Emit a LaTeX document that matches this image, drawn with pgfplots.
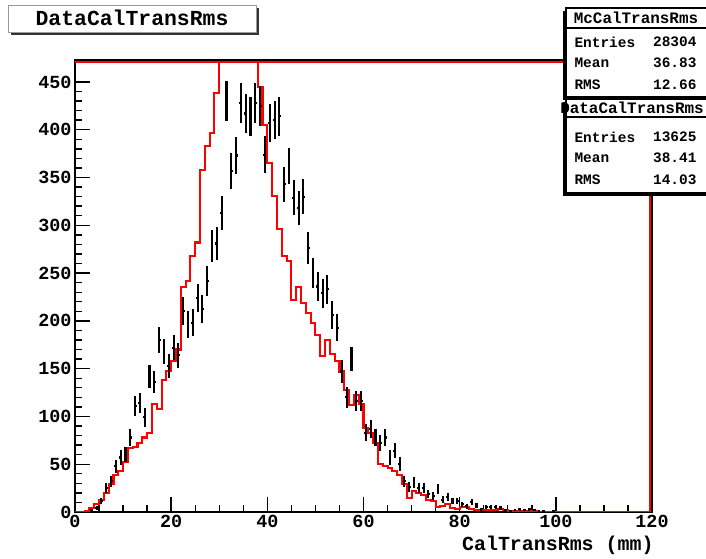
\documentclass[border=0pt]{standalone}
\usepackage{pgfplots}
\usepackage{pgfplotstable}
\pgfplotsset{compat=1.18}
\usepackage{fontspec}
\setmainfont{Liberation Mono}

\pgfplotstableread{
x y
0 0
1 0
2 1
3 4.5
4 8.7
5 13
6 20
7 29
8 39
9 43
10 52
11 67
12 68
13 72
14 78
15 83
16 113
17 108
18 138
19 148
20 158
21 170
22 235
23 242
24 268
25 282
26 358
27 383
28 397
29 438
30 490
31 510
32 525
33 535
34 530
35 520
36 505
37 485
38 445
39 405
40 365
41 331
42 296
43 268
44 263
45 222
46 235
47 219
48 208
49 198
50 185
51 163
52 180
53 165
54 158
55 147
56 128
57 112
58 122
59 113
60 88
61 83
62 72
63 50
64 48
65 46
66 43
67 39
68 29
69 15
70 22
71 20
72 18
73 13
74 11.5
75 5
76 6
77 8
78 4
79 3
80 5.5
81 5
82 3
83 2.5
84 2.5
85 2
86 2
87 2
88 3
89 2
90 1
91 1
92 0.5
93 1
94 1
95 0.5
96 0.3
97 0.3
98 0.3
99 0
100 0.3
101 0
102 0
103 0
104 0
105 0
106 0
107 0
108 0
109 0
110 0
111 0
112 0
113 0
114 0
115 0
116 0
117 0
118 0
119 0
120 0
}\mctable

\pgfplotstableread{
x y ex ey
3.5 2 0.3 1.4
4.5 4 0.3 2
5.5 11.5 0.3 3.4
6.5 25 0.3 5
7.5 32 0.3 5.7
8.5 48 0.3 6.9
9.5 57 0.3 7.5
10.5 60 0.3 7.7
11.5 78 0.3 8.8
12.5 111 0.3 10.5
13.5 114 0.3 10.7
14.5 99 0.3 10
15.5 142 0.3 11.9
16.5 136 0.3 11.7
17.5 180 0.3 13.4
18.5 168 0.3 13
19.5 153 0.3 12.4
20.5 172 0.3 13.1
21.5 164 0.3 12.8
22.5 210 0.3 14.5
23.5 196 0.3 14
24.5 198 0.3 14.1
25.5 224 0.3 15
26.5 212 0.3 14.6
27.5 242 0.3 15.6
28.5 278 0.3 16.7
29.5 281 0.3 16.8
30.5 313 0.3 17.7
31.5 430 0.3 20.7
32.5 357 0.3 18.9
33.5 373 0.3 19.3
34.5 428 0.3 20.7
35.5 417 0.3 20.4
36.5 414 0.3 20.3
37.5 428 0.3 20.7
38.5 425 0.3 20.6
39.5 374 0.3 19.3
40.5 407 0.3 20.2
41.5 410 0.3 20.2
42.5 414 0.3 20.3
43.5 343 0.3 18.5
44.5 362 0.3 19
45.5 329 0.3 18.1
46.5 318 0.3 17.8
47.5 330 0.3 18.2
48.5 276 0.3 16.6
49.5 250 0.3 15.8
50.5 236 0.3 15.4
51.5 229 0.3 15.1
52.5 233 0.3 15.3
53.5 206 0.3 14.4
54.5 193 0.3 13.9
55.5 147 0.3 12.1
56.5 120 0.3 11
57.5 160 0.3 12.6
58.5 116 0.3 10.8
59.5 116 0.3 10.8
60.5 83 0.3 9.1
61.5 86.5 0.3 9.3
62.5 78 0.3 8.8
63.5 72.5 0.3 8.5
64.5 78 0.3 8.8
65.5 57 0.3 7.5
66.5 64 0.3 8
67.5 50.5 0.3 7.1
68.5 32 0.3 5.7
69.5 26.5 0.3 5.1
70.5 31 0.3 5.6
71.5 25 0.3 5
72.5 25 0.3 5
73.5 18.5 0.3 4.3
74.5 17 0.3 4.1
75.5 24 0.3 4.9
76.5 13 0.3 3.6
77.5 15.5 0.3 3.9
78.5 11.5 0.3 3.4
79.5 11.5 0.3 3.4
80.5 8 0.3 2.8
81.5 6 0.3 2.4
82.5 10 0.3 3.2
83.5 7 0.3 2.6
84.5 3 0.3 1.7
85.5 5 0.3 2.2
86.5 5 0.3 2.2
87.5 5 0.3 2.2
88.5 4 0.3 2
89.5 2 0.3 1.4
90.5 1 0.3 1
91.5 2 0.3 1.4
92.5 3 0.3 1.7
93.5 2 0.3 1.4
94.5 3 0.3 1.7
95.5 2 0.3 1.4
96.5 1 0.3 1
97.5 1 0.3 1
99.5 1 0.3 1
}\datatable

\begin{document}
\begin{tikzpicture}[x=1bp,y=1bp]
\path[use as bounding box] (0,0) rectangle (706,559);
\begin{axis}[
  at={(75bp,47bp)}, anchor=south west,
  scale only axis, width=577bp, height=452bp,
  xmin=0, xmax=120, ymin=0, ymax=473,
  xtick={0,20,...,120}, ytick={0,50,...,450},
  minor x tick num=3, minor y tick num=4,
  tick align=inside, tick pos=left,
  major tick length=15bp, minor tick length=7bp,
  every tick/.style={black, line width=1.4bp},
  axis line style={line width=2.4bp},
  ticklabel style={font=\bfseries\fontsize{18.5}{18.5}\selectfont},
  /pgf/number format/assume math mode=true,
  /pgf/number format/1000 sep={},
  clip=true,
  after end axis/.code={
    \draw[red, line width=1.6bp] ([yshift=-2bp]rel axis cs:0,1) -- ([xshift=-2bp,yshift=-2bp]rel axis cs:1,1) -- ([xshift=-2bp]rel axis cs:1,0);
    \draw[black, line width=1.4bp] (rel axis cs:0,1) -- (rel axis cs:1,1) -- (rel axis cs:1,0);
  },
]
\addplot[red, line width=2.1bp, const plot, mark=none] table[x=x,y=y] {\mctable};
\addplot[draw=none, mark=none,
  error bars/.cd, x dir=both, x explicit, y dir=both, y explicit,
  error mark=none, error bar style={black, line width=2.1bp}]
  table[x=x,y=y,x error=ex,y error=ey] {\datatable};
\end{axis}

% title box
\fill[black!80] (11,524) rectangle (259,551);
\draw[black!40, fill=white, line width=0.8bp] (8,527) rectangle (256,554);
\node[font=\bfseries\fontsize{21.5}{21.5}\selectfont] at (132,541) {DataCalTransRms};

% x axis label
\node[anchor=east, font=\bfseries\fontsize{20}{20}\selectfont] at (657,14) {CalTransRms (mm)};

% MC stats box
\fill[black] (563,459) rectangle (706,548);
\draw[black, line width=1.2bp, fill=white] (566,462) rectangle (712,551);
\draw[black, line width=1.2bp] (566,531) -- (712,531);
\node[font=\bfseries\fontsize{16}{16}\selectfont] at (636,541) {McCalTransRms};
\begin{scope}[every node/.style={font=\bfseries\fontsize{14.5}{14.5}\selectfont}]
\node[anchor=west] at (571,517) {Entries};
\node[anchor=east] at (700,517) {28304};
\node[anchor=west] at (571,496) {Mean};
\node[anchor=east] at (700,496) {36.83};
\node[anchor=west] at (571,474) {RMS};
\node[anchor=east] at (700,474) {12.66};
\end{scope}

% Data stats box
\fill[black] (563,363) rectangle (706,457);
\draw[black, line width=1.2bp, fill=white] (566,366) rectangle (712,460);
\draw[black, line width=1.2bp] (566,442) -- (712,442);
\node[font=\bfseries\fontsize{16}{16}\selectfont] at (632,451) {DataCalTransRms};
\begin{scope}[every node/.style={font=\bfseries\fontsize{14.5}{14.5}\selectfont}]
\node[anchor=west] at (571,422) {Entries};
\node[anchor=east] at (700,422) {13625};
\node[anchor=west] at (571,401) {Mean};
\node[anchor=east] at (700,401) {38.41};
\node[anchor=west] at (571,379) {RMS};
\node[anchor=east] at (700,379) {14.03};
\end{scope}
\end{tikzpicture}
\end{document}
